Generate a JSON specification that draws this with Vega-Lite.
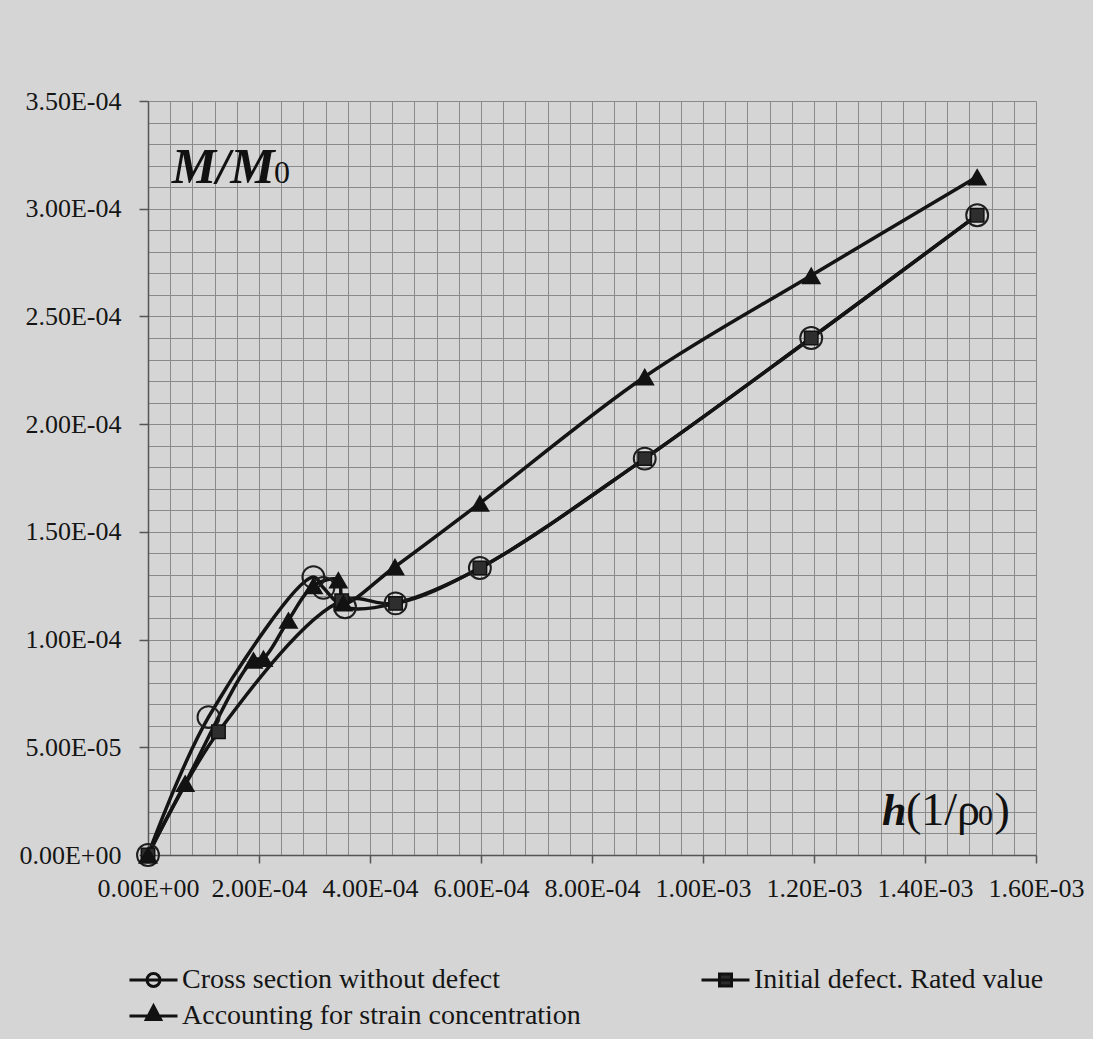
{
  "$schema": "https://vega.github.io/schema/vega-lite/v6.json",
  "width": 888,
  "height": 754,
  "autosize": "none",
  "padding": {"left": 148, "top": 101, "right": 57, "bottom": 184},
  "background": "#d5d5d5",
  "config": {"view": {"stroke": null}, "font": "Liberation Serif"},
  "datasets": {
    "pts": [
      {"series": "Cross section without defect", "order": 0, "x": 0, "y": 0},
      {"series": "Cross section without defect", "order": 1, "x": 0.000109, "y": 0.000064},
      {"series": "Cross section without defect", "order": 2, "x": 0.000298, "y": 0.000129},
      {"series": "Cross section without defect", "order": 3, "x": 0.000316, "y": 0.000124},
      {"series": "Cross section without defect", "order": 4, "x": 0.000355, "y": 0.000115},
      {"series": "Cross section without defect", "order": 5, "x": 0.000446, "y": 0.0001168},
      {"series": "Cross section without defect", "order": 6, "x": 0.000598, "y": 0.0001332},
      {"series": "Cross section without defect", "order": 7, "x": 0.000895, "y": 0.000184},
      {"series": "Cross section without defect", "order": 8, "x": 0.001195, "y": 0.00024},
      {"series": "Cross section without defect", "order": 9, "x": 0.001494, "y": 0.000297},
      {"series": "Initial defect. Rated value", "order": 0, "x": 0, "y": 0},
      {"series": "Initial defect. Rated value", "order": 1, "x": 0.000127, "y": 0.0000572},
      {"series": "Initial defect. Rated value", "order": 2, "x": 0.000349, "y": 0.000118},
      {"series": "Initial defect. Rated value", "order": 3, "x": 0.000446, "y": 0.0001168},
      {"series": "Initial defect. Rated value", "order": 4, "x": 0.000598, "y": 0.0001332},
      {"series": "Initial defect. Rated value", "order": 5, "x": 0.000895, "y": 0.000184},
      {"series": "Initial defect. Rated value", "order": 6, "x": 0.001195, "y": 0.00024},
      {"series": "Initial defect. Rated value", "order": 7, "x": 0.001494, "y": 0.000297},
      {"series": "Accounting for strain concentration", "order": 0, "x": 0, "y": 0},
      {"series": "Accounting for strain concentration", "order": 1, "x": 0.000067, "y": 0.0000333},
      {"series": "Accounting for strain concentration", "order": 2, "x": 0.00019, "y": 0.0000905},
      {"series": "Accounting for strain concentration", "order": 3, "x": 0.000208, "y": 0.0000913},
      {"series": "Accounting for strain concentration", "order": 4, "x": 0.000253, "y": 0.000109},
      {"series": "Accounting for strain concentration", "order": 5, "x": 0.000298, "y": 0.000125},
      {"series": "Accounting for strain concentration", "order": 6, "x": 0.000343, "y": 0.0001277},
      {"series": "Accounting for strain concentration", "order": 7, "x": 0.000352, "y": 0.000117},
      {"series": "Accounting for strain concentration", "order": 8, "x": 0.000445, "y": 0.0001338},
      {"series": "Accounting for strain concentration", "order": 9, "x": 0.000598, "y": 0.0001633},
      {"series": "Accounting for strain concentration", "order": 10, "x": 0.000895, "y": 0.000222},
      {"series": "Accounting for strain concentration", "order": 11, "x": 0.001195, "y": 0.000269},
      {"series": "Accounting for strain concentration", "order": 12, "x": 0.001494, "y": 0.0003148}
    ]
  },
  "layer": [
    {
      "data": {"name": "pts"},
      "mark": {"type": "line", "interpolate": "catmull-rom", "color": "#141414", "strokeWidth": 3.5},
      "encoding": {
        "x": {
          "field": "x", "type": "quantitative",
          "scale": {"domain": [0, 0.0016], "nice": false, "zero": true},
          "axis": {
            "title": null, "tickCount": 200,
            "values": [0, 4e-5, 8e-5, 1.2e-4, 1.6e-4, 2e-4, 2.4e-4, 2.8e-4, 3.2e-4, 3.6e-4, 4e-4, 4.4e-4, 4.8e-4, 5.2e-4, 5.6e-4, 6e-4, 6.4e-4, 6.8e-4, 7.2e-4, 7.6e-4, 8e-4, 8.4e-4, 8.8e-4, 9.2e-4, 9.6e-4, 1e-3, 1.04e-3, 1.08e-3, 1.12e-3, 1.16e-3, 1.2e-3, 1.24e-3, 1.28e-3, 1.32e-3, 1.36e-3, 1.4e-3, 1.44e-3, 1.48e-3, 1.52e-3, 1.56e-3, 1.6e-3],
            "grid": true, "gridColor": "#8a8a8a", "gridWidth": 1,
            "domainColor": "#555555", "domainWidth": 1.5,
            "tickColor": "#555555", "tickSize": 8, "tickWidth": 1.5,
            "tickOpacity": {"condition": {"test": "abs(datum.value/0.0002 - round(datum.value/0.0002)) < 0.001", "value": 1}, "value": 0},
            "labelExpr": "abs(datum.value/0.0002 - round(datum.value/0.0002)) < 0.001 ? (datum.value < 1e-12 ? '0.00E+00' : format(datum.value/pow(10, floor(log(datum.value)/LN10 + 1e-9)), '.2f') + 'E-0' + (-floor(log(datum.value)/LN10 + 1e-9))) : ''",
            "labelFont": "Liberation Serif", "labelFontSize": 26, "labelColor": "#151515",
            "labelPadding": 12, "labelOverlap": false, "labelFlush": false
          }
        },
        "y": {
          "field": "y", "type": "quantitative",
          "scale": {"domain": [0, 0.00035], "nice": false, "zero": true},
          "axis": {
            "title": null, "tickCount": 200,
            "values": [0, 0.00001, 0.00002, 0.00003, 0.00004, 0.00005, 0.00006, 0.00007, 0.00008, 0.00009, 0.0001, 0.00011, 0.00012, 0.00013, 0.00014, 0.00015, 0.00016, 0.00017, 0.00018, 0.00019, 0.0002, 0.00021, 0.00022, 0.00023, 0.00024, 0.00025, 0.00026, 0.00027, 0.00028, 0.00029, 0.0003, 0.00031, 0.00032, 0.00033, 0.00034, 0.00035],
            "grid": true, "gridColor": "#8a8a8a", "gridWidth": 1,
            "domainColor": "#555555", "domainWidth": 1.5,
            "tickColor": "#555555", "tickSize": 9, "tickWidth": 1.5,
            "tickOpacity": {"condition": {"test": "abs(datum.value/0.00005 - round(datum.value/0.00005)) < 0.001", "value": 1}, "value": 0},
            "labelExpr": "abs(datum.value/0.00005 - round(datum.value/0.00005)) < 0.001 ? (datum.value < 1e-12 ? '0.00E+00' : format(datum.value/pow(10, floor(log(datum.value)/LN10 + 1e-9)), '.2f') + 'E-0' + (-floor(log(datum.value)/LN10 + 1e-9))) : ''",
            "labelFont": "Liberation Serif", "labelFontSize": 26, "labelColor": "#151515",
            "labelPadding": 18, "labelOverlap": false, "labelFlush": false
          }
        },
        "detail": {"field": "series"},
        "order": {"field": "order"}
      }
    },
    {
      "data": {"name": "pts"},
      "transform": [{"filter": "datum.series == 'Cross section without defect'"}],
      "mark": {"type": "point", "shape": "circle", "size": 480, "filled": false, "stroke": "#1e1e1e", "strokeWidth": 2, "opacity": 1},
      "encoding": {
        "x": {"field": "x", "type": "quantitative"},
        "y": {"field": "y", "type": "quantitative"}
      }
    },
    {
      "data": {"name": "pts"},
      "transform": [{"filter": "datum.series == 'Initial defect. Rated value'"}],
      "mark": {"type": "point", "shape": "square", "size": 180, "filled": true, "fill": "#2e2e2e", "stroke": "#111111", "strokeWidth": 1.5, "opacity": 1},
      "encoding": {
        "x": {"field": "x", "type": "quantitative"},
        "y": {"field": "y", "type": "quantitative"}
      }
    },
    {
      "data": {"name": "pts"},
      "transform": [{"filter": "datum.series == 'Accounting for strain concentration'"}],
      "mark": {"type": "point", "shape": "triangle-up", "size": 400, "filled": true, "fill": "#121212", "opacity": 1},
      "encoding": {
        "x": {"field": "x", "type": "quantitative"},
        "y": {"field": "y", "type": "quantitative"}
      }
    },
    {
      "data": {"name": "pts"},
      "mark": {"type": "point", "size": 2304, "opacity": 0, "strokeWidth": 3},
      "encoding": {
        "x": {"field": "x", "type": "quantitative"},
        "y": {"field": "y", "type": "quantitative"},
        "shape": {
          "field": "series", "type": "nominal",
          "scale": {
            "domain": ["Cross section without defect", "Accounting for strain concentration", "Initial defect. Rated value"],
            "range": ["M-1,0H1M0.27,0A0.27,0.27,0,1,1,-0.27,0A0.27,0.27,0,1,1,0.27,0", "M-1,0H1M0,-0.42L0.3,0.15L-0.3,0.15Z", "M-1,0H1M-0.25,-0.25H0.25V0.25H-0.25Z"]
          },
          "legend": {
            "title": null, "orient": "none", "legendX": -20, "legendY": 864,
            "columns": 2, "columnPadding": 119, "rowPadding": 6, "clipHeight": 30,
            "symbolSize": 2304, "symbolOpacity": 1, "symbolStrokeWidth": 3,
            "labelFont": "Liberation Serif", "labelFontSize": 28, "labelColor": "#151515", "labelOffset": 3, "labelLimit": 0
          }
        },
        "fill": {
          "field": "series", "type": "nominal",
          "scale": {
            "domain": ["Cross section without defect", "Accounting for strain concentration", "Initial defect. Rated value"],
            "range": ["transparent", "#111111", "#2b2b2b"]
          },
          "legend": {
            "title": null, "orient": "none", "legendX": -20, "legendY": 864,
            "columns": 2, "columnPadding": 119, "rowPadding": 6, "clipHeight": 30,
            "symbolSize": 2304, "symbolOpacity": 1, "symbolStrokeWidth": 3,
            "labelFont": "Liberation Serif", "labelFontSize": 28, "labelColor": "#151515", "labelOffset": 3, "labelLimit": 0
          }
        },
        "stroke": {
          "field": "series", "type": "nominal",
          "scale": {
            "domain": ["Cross section without defect", "Accounting for strain concentration", "Initial defect. Rated value"],
            "range": ["#111111", "#111111", "#111111"]
          },
          "legend": {
            "title": null, "orient": "none", "legendX": -20, "legendY": 864,
            "columns": 2, "columnPadding": 119, "rowPadding": 6, "clipHeight": 30,
            "symbolSize": 2304, "symbolOpacity": 1, "symbolStrokeWidth": 3,
            "labelFont": "Liberation Serif", "labelFontSize": 28, "labelColor": "#151515", "labelOffset": 3, "labelLimit": 0
          }
        }
      }
    },
    {
      "data": {"values": [{}]},
      "mark": {"type": "text", "text": "M/M", "font": "Liberation Serif", "fontSize": 50, "fontWeight": "bold", "fontStyle": "italic", "align": "left", "baseline": "alphabetic", "color": "#111111"},
      "encoding": {"x": {"datum": 0.000043}, "y": {"datum": 0.000312}}
    },
    {
      "data": {"values": [{}]},
      "mark": {"type": "text", "text": "0", "font": "Liberation Serif", "fontSize": 32, "align": "left", "baseline": "alphabetic", "color": "#111111"},
      "encoding": {"x": {"datum": 0.000227}, "y": {"datum": 0.000312}}
    },
    {
      "data": {"values": [{}]},
      "mark": {"type": "text", "text": "h", "font": "Liberation Serif", "fontSize": 44, "fontWeight": "bold", "fontStyle": "italic", "align": "left", "baseline": "alphabetic", "color": "#111111"},
      "encoding": {"x": {"datum": 0.0013225}, "y": {"datum": 0.0000139}}
    },
    {
      "data": {"values": [{}]},
      "mark": {"type": "text", "text": "(1/ρ", "font": "Liberation Serif", "fontSize": 46, "align": "left", "baseline": "alphabetic", "color": "#111111"},
      "encoding": {"x": {"datum": 0.0013658}, "y": {"datum": 0.0000139}}
    },
    {
      "data": {"values": [{}]},
      "mark": {"type": "text", "text": "0", "font": "Liberation Serif", "fontSize": 30, "align": "left", "baseline": "alphabetic", "color": "#111111"},
      "encoding": {"x": {"datum": 0.0014955}, "y": {"datum": 0.0000139}}
    },
    {
      "data": {"values": [{}]},
      "mark": {"type": "text", "text": ")", "font": "Liberation Serif", "fontSize": 46, "align": "left", "baseline": "alphabetic", "color": "#111111"},
      "encoding": {"x": {"datum": 0.001525}, "y": {"datum": 0.0000139}}
    }
  ]
}
